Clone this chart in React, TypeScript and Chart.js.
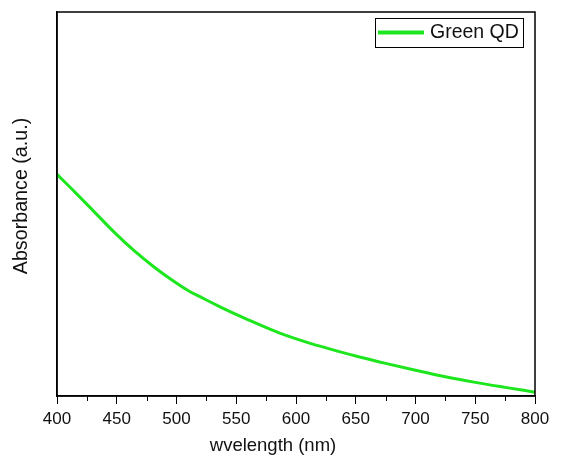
import React, { useEffect, useRef } from "react";
import { Chart, registerables } from "chart.js";

Chart.register(...registerables);

const wavelengths = [400, 415, 432, 448, 465, 482, 498, 510, 520, 536, 561, 587, 612, 637, 654, 675, 700, 725, 750, 775, 800];
const absorbance = [0.577, 0.531, 0.477, 0.426, 0.377, 0.334, 0.298, 0.274, 0.258, 0.233, 0.197, 0.163, 0.137, 0.115, 0.101, 0.085, 0.067, 0.05, 0.0355, 0.0225, 0.01];
const seriesLabel = "Green QD";
const xTitle = "wvelength (nm)";
const yTitle = "Absorbance (a.u.)";
const minorTicks = [425, 475, 525, 575, 625, 675, 725, 775];

const GREEN = "#1ee61e";
const FONT = "'Liberation Sans', Arial, sans-serif";
const TEXT = "#111";

const framePlugin = {
  id: "frameAndLegend",
  afterDraw(chart: any) {
    const { ctx, chartArea } = chart;
    const xs = chart.scales.x;
    ctx.save();
    // minor ticks
    ctx.strokeStyle = "#000";
    ctx.lineWidth = 1;
    for (const v of minorTicks) {
      const px = Math.round(xs.getPixelForValue(v)) + 0.5;
      ctx.beginPath();
      ctx.moveTo(px, chartArea.bottom);
      ctx.lineTo(px, chartArea.bottom + 5);
      ctx.stroke();
    }
    // frame
    ctx.lineWidth = 1.5;
    ctx.strokeRect(chartArea.left, chartArea.top, chartArea.right - chartArea.left, chartArea.bottom - chartArea.top);
    // axis titles
    ctx.fillStyle = TEXT;
    ctx.textAlign = "center";
    ctx.textBaseline = "middle";
    ctx.font = `18.5px ${FONT}`;
    ctx.fillText(xTitle, chartArea.left + 216, chart.height - 14);
    ctx.save();
    ctx.translate(22, chartArea.top + 184);
    ctx.rotate(-Math.PI / 2);
    ctx.font = `19.7px ${FONT}`;
    ctx.fillText(yTitle, 0, 0);
    ctx.restore();
    // legend
    const bx = chartArea.right - 160;
    const by = chartArea.top + 6;
    const bw = 148;
    const bh = 29;
    ctx.fillStyle = "#fff";
    ctx.fillRect(bx, by, bw, bh);
    ctx.lineWidth = 1;
    ctx.strokeStyle = "#000";
    ctx.strokeRect(bx + 0.5, by + 0.5, bw, bh);
    ctx.strokeStyle = GREEN;
    ctx.lineWidth = 4;
    ctx.beginPath();
    ctx.moveTo(bx + 3, by + 14.5);
    ctx.lineTo(bx + 49, by + 14.5);
    ctx.stroke();
    ctx.fillStyle = TEXT;
    ctx.font = `19.5px ${FONT}`;
    ctx.textBaseline = "middle";
    ctx.textAlign = "left";
    ctx.fillText(chart.data.datasets[0].label, bx + 55, by + 15);
    ctx.restore();
  },
};

export default function App() {
  const ref = useRef<HTMLCanvasElement | null>(null);
  useEffect(() => {
    if (!ref.current) return;
    const chart = new Chart(ref.current, {
      type: "line",
      data: {
        datasets: [
          {
            label: seriesLabel,
            data: wavelengths.map((w, i) => ({ x: w, y: absorbance[i] })),
            borderColor: GREEN,
            borderWidth: 3,
            pointRadius: 0,
            cubicInterpolationMode: "monotone",
            fill: false,
          },
        ],
      },
      options: {
        animation: false,
        responsive: false,
        layout: { padding: { top: 12, right: 31, left: 0, bottom: 0 } },
        plugins: { legend: { display: false }, tooltip: { enabled: false } },
        scales: {
          x: {
            type: "linear",
            min: 400,
            max: 800,
            afterFit: (s: any) => {
              s.height = 64;
            },
            ticks: { stepSize: 50, color: TEXT, font: { family: FONT, size: 17 }, padding: 5, maxRotation: 0 },
            grid: { drawOnChartArea: false, drawTicks: true, tickLength: 8, tickColor: "#000" },
            border: { display: true, color: "#000", width: 1.5 },
            title: { display: false, text: xTitle },
          },
          y: {
            type: "linear",
            min: 0,
            max: 1,
            afterFit: (s: any) => {
              s.width = 57;
            },
            ticks: { display: false },
            grid: { display: false },
            border: { display: true, color: "#000", width: 1.5 },
            title: { display: false, text: yTitle },
          },
        },
      },
      plugins: [framePlugin],
    });
    return () => chart.destroy();
  }, []);
  return (
    <div style={{ position: "absolute", left: 0, top: 0, width: 566, height: 460, background: "#fff" }}>
      <canvas ref={ref} width={566} height={460} />
    </div>
  );
}
